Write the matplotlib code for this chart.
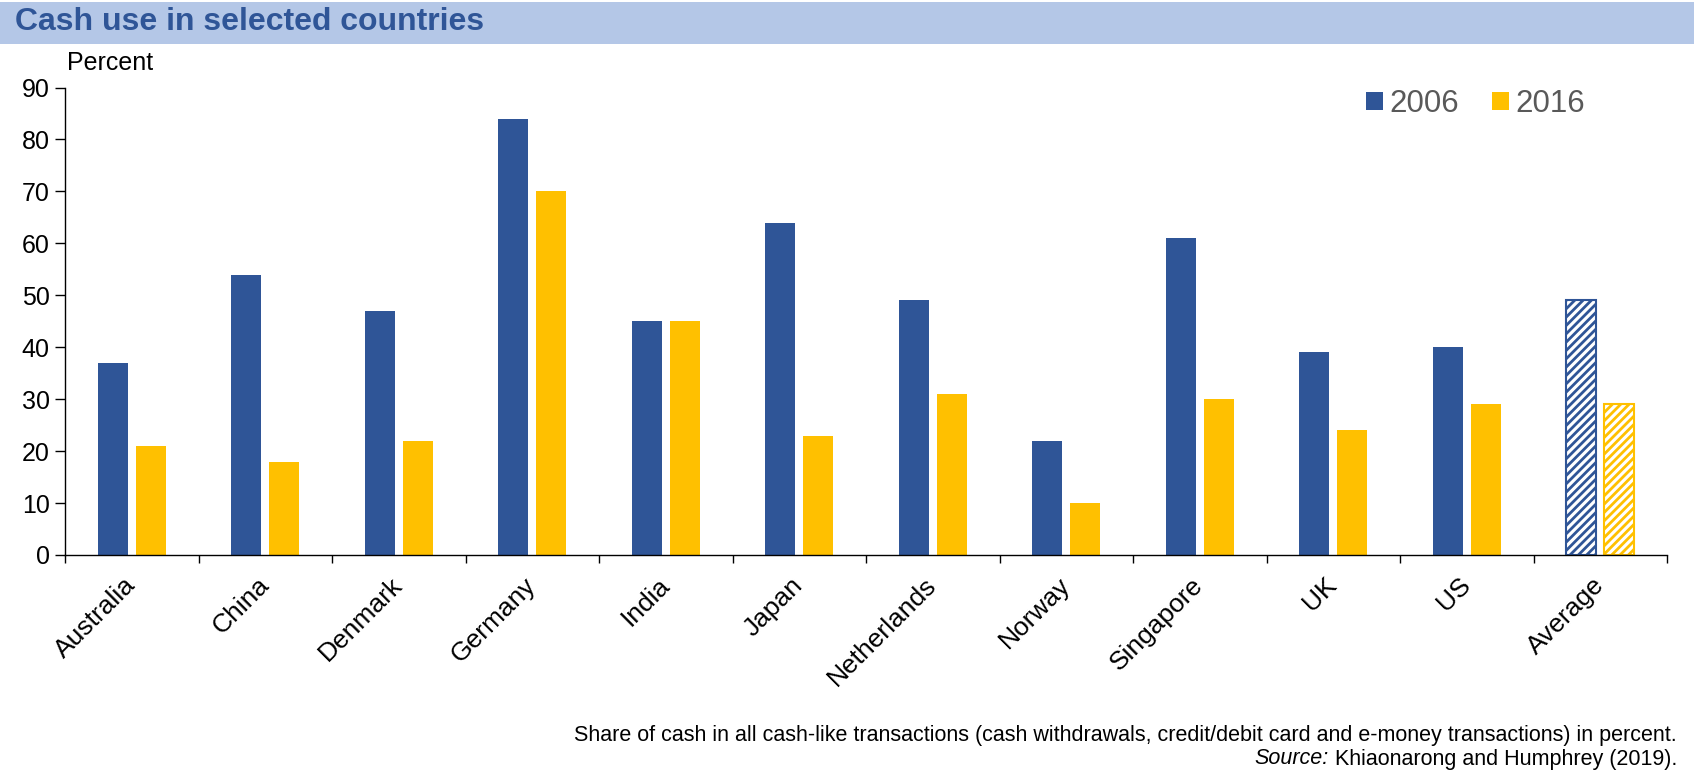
import matplotlib
matplotlib.use("Agg")
import matplotlib.pyplot as plt
from matplotlib.patches import Rectangle, Patch
import numpy as np

categories = ["Australia", "China", "Denmark", "Germany", "India", "Japan",
              "Netherlands", "Norway", "Singapore", "UK", "US", "Average"]
values_2006 = [37, 54, 47, 84, 45, 64, 49, 22, 61, 39, 40, 49]
values_2016 = [21, 18, 22, 70, 45, 23, 31, 10, 30, 24, 29, 29]
series_names = ["2006", "2016"]
yticks = [0, 10, 20, 30, 40, 50, 60, 70, 80, 90]

BLUE = "#2F5597"
YELLOW = "#FFC000"
TITLE_BG = "#B4C7E7"

plt.rcParams['font.family'] = ['Liberation Sans', 'DejaVu Sans']
plt.rcParams['hatch.linewidth'] = 2.0

W, H = 1694, 770
fig = plt.figure(figsize=(W / 100, H / 100), dpi=100)

# title bar
fig.patches.append(Rectangle((0, 1 - 44 / H), 1, 42 / H, transform=fig.transFigure,
                             facecolor=TITLE_BG, edgecolor='none', zorder=0))
fig.text(15 / W, 1 - 22 / H, "Cash use in selected countries", color=BLUE,
         fontsize=23, fontweight='bold', ha='left', va='center')

left, right = 65 / W, 1667 / W
bottom, top = 1 - 555 / H, 1 - 87.5 / H
ax = fig.add_axes([left, bottom, right - left, top - bottom])

n = len(categories)
x = np.arange(n)
bw = 0.225
off = 0.142
for i in range(n):
    if categories[i] == "Average":
        ax.bar(x[i] - off, values_2006[i], bw, facecolor='white', edgecolor=BLUE,
               hatch='////', linewidth=1.5)
        ax.bar(x[i] + off, values_2016[i], bw, facecolor='white', edgecolor=YELLOW,
               hatch='////', linewidth=1.5)
    else:
        ax.bar(x[i] - off, values_2006[i], bw, color=BLUE)
        ax.bar(x[i] + off, values_2016[i], bw, color=YELLOW)

ax.set_xlim(-0.5, n - 0.5)
ax.set_ylim(0, 90)
ax.set_yticks(yticks)
ax.tick_params(axis='y', labelsize=18, length=7, width=1, pad=4)
ax.set_xticks(np.arange(n + 1) - 0.5)
ax.set_xticklabels([])
ax.tick_params(axis='x', length=6, width=1)
ax.set_xticks(x, minor=True)
ax.set_xticklabels(categories, minor=True, rotation=45, ha='right', va='center',
                   rotation_mode='anchor', fontsize=19)
ax.tick_params(axis='x', which='minor', length=0, pad=19)

for s in ['top', 'right']:
    ax.spines[s].set_visible(False)
for s in ['left', 'bottom']:
    ax.spines[s].set_linewidth(1)
    ax.spines[s].set_color('black')

fig.text(67 / W, 1 - 63 / H, "Percent", fontsize=18, ha='left', va='center')

handles = [Patch(facecolor=BLUE, edgecolor='none'), Patch(facecolor=YELLOW, edgecolor='none')]
leg = fig.legend(handles, series_names, loc='center left',
                 bbox_to_anchor=(1338 / W, 1 - 104 / H), ncol=2, frameon=False,
                 fontsize=22.5, handlelength=0.55, handleheight=0.55, handletextpad=0.2,
                 columnspacing=1.05, labelcolor='#595959')

fig.text(1677 / W, 1 - 735 / H,
         "Share of cash in all cash-like transactions (cash withdrawals, credit/debit card and e-money transactions) in percent.",
         fontsize=15.5, ha='right', va='center')
t2 = fig.text(1677 / W, 1 - 759 / H, " Khiaonarong and Humphrey (2019).",
              fontsize=15.5, ha='right', va='center')
fig.canvas.draw()
bb = t2.get_window_extent()
fig.text(bb.x0 / W, 1 - 759 / H, "Source:", fontsize=15.5, style='italic',
         ha='right', va='center')

fig.savefig("out.png", dpi=100)
